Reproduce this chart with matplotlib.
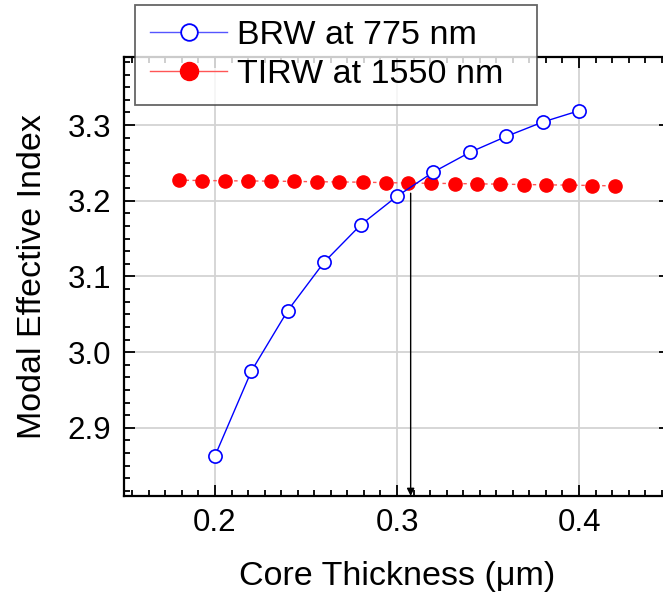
import numpy as np
import matplotlib.pyplot as plt
from matplotlib.ticker import AutoMinorLocator, MultipleLocator
from matplotlib.lines import Line2D

plt.rcParams['font.family'] = ['Liberation Sans', 'DejaVu Sans']

# BRW at 775 nm
brw_t = [0.20, 0.22, 0.24, 0.26, 0.28, 0.30, 0.32, 0.34, 0.36, 0.38, 0.40]
brw_n = [2.863, 2.975, 3.055, 3.119, 3.168, 3.206, 3.238, 3.264, 3.285, 3.304, 3.319]

# TIRW at 1550 nm
tirw_t = [0.180, 0.1926, 0.2053, 0.2179, 0.2305, 0.2432, 0.2558, 0.2684, 0.2811, 0.2937,
          0.3063, 0.3189, 0.3316, 0.3442, 0.3568, 0.3695, 0.3821, 0.3947, 0.4074, 0.420]
tirw_n = [3.2272, 3.2268, 3.2265, 3.2262, 3.2260, 3.2256, 3.2252, 3.2249, 3.2246, 3.2240,
          3.2235, 3.2231, 3.2228, 3.2224, 3.2220, 3.2215, 3.2211, 3.2207, 3.2202, 3.2197]

# phase matching crossing
x_match = 0.3075

fig = plt.figure(figsize=(6.63, 5.98), dpi=100)
ax = fig.add_axes([0.187, 0.1706, 1.0106 - 0.187, 0.9047 - 0.1706])

ax.plot(brw_t, brw_n, '-o', color='#0000ff', lw=1, ms=9.5, mfc='white',
        mec='#0000ff', mew=1.2, zorder=4)
ax.plot(tirw_t, tirw_n, linestyle=(0, (2.5, 2.5)), color='#ff5555', lw=1, zorder=2)
ax.plot(tirw_t, tirw_n, 'o', color='#ff0000', ms=9.5, ls='none', zorder=3)

ax.annotate('', xy=(x_match, 2.81), xytext=(x_match, 3.21),
            arrowprops=dict(arrowstyle='-|>', color='black', lw=1, mutation_scale=11,
                            shrinkA=0, shrinkB=0))

ax.set_xlim(0.15, 0.45)
ax.set_ylim(2.81, 3.39)
ax.xaxis.set_major_locator(MultipleLocator(0.1))
ax.yaxis.set_major_locator(MultipleLocator(0.1))
ax.xaxis.set_minor_locator(AutoMinorLocator(11))
ax.yaxis.set_minor_locator(AutoMinorLocator(6))
ax.set_xticks([0.2, 0.3, 0.4])
ax.set_xticklabels(['0.2', '0.3', '0.4'])
ax.set_yticks([2.9, 3.0, 3.1, 3.2, 3.3])
ax.set_yticklabels(['2.9', '3.0', '3.1', '3.2', '3.3'])

ax.grid(True, which='major', color='#d3d3d3', lw=1.3, zorder=0)
ax.set_axisbelow(True)
for s in ax.spines.values():
    s.set_linewidth(1.6)
ax.tick_params(which='both', direction='in', top=True, right=True, width=1.3,
               labelsize=22.5, pad=9)
ax.tick_params(which='major', length=8)
ax.tick_params(which='minor', length=4)

ax.set_xlabel('Core Thickness (\u03bcm)', fontsize=24.5, labelpad=16)
ax.set_ylabel('Modal Effective Index', fontsize=24.5, labelpad=14)

h1 = Line2D([], [], color='#5555ff', lw=1, marker='o', ms=12, mfc='white',
            mec='#0000ff', mew=1.3)
h2 = Line2D([], [], color='#ff5555', lw=1, marker='o', ms=13, mfc='#ff0000',
            mec='#ff0000')
x0, x1 = 135 / 663, 537 / 663
y1 = 1 - 5 / 598
leg = fig.legend([h1, h2], ['BRW at 775 nm', 'TIRW at 1550 nm'],
                 loc='upper left', bbox_to_anchor=(x0, y1 - 0.2, x1 - x0, 0.2),
                 mode='expand',
                 fontsize=24.5, frameon=True, fancybox=False, borderpad=0.45,
                 handlelength=2.25, handletextpad=0.3, labelspacing=0.22,
                 borderaxespad=0)
leg.get_frame().set_edgecolor('#404040')
leg.get_frame().set_linewidth(1.3)
leg.set_zorder(10)

fig.savefig('out.png', dpi=100)
